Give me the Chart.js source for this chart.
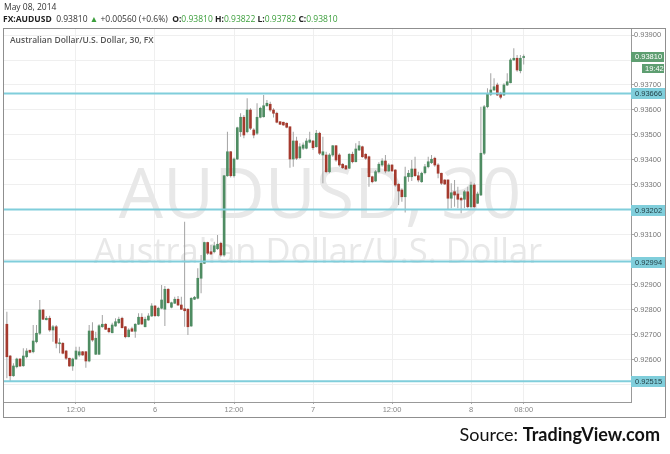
<!DOCTYPE html>
<html>
<head>
<meta charset="utf-8">
<title>AUDUSD, 30</title>
<script src="https://cdn.jsdelivr.net/npm/chart.js@4.4.0/dist/chart.umd.min.js"></script>
<style>
  body { margin: 0; background: #fff; }
  #wrap { position: relative; width: 670px; height: 454px; overflow: hidden; font-family: "Open Sans", sans-serif; }
  #wrap canvas { position: absolute; left: 0; top: 0; }
  .txt { position: absolute; white-space: nowrap; }
  #date { left: 4px; top: 1px; font-size: 8.5px; color: #333; }
  #quote { left: 3px; top: 13px; font-size: 8.5px; color: #333; }
  #quote b { font-weight: 700; color: #222; }
  #quote .up { color: #3b9e3b; }
  #title { left: 10px; top: 34px; font-size: 8.5px; font-weight: 600; color: #555; }
  #source { right: 10px; top: 424px; font-family: Lato, sans-serif; font-size: 18px; line-height: 20px; color: #111; }
  #source b { font-weight: 700; }
</style>
</head>
<body>
<div id="wrap">
  <canvas id="audChart" width="670" height="454"></canvas>
  <div class="txt" id="date">May 08, 2014</div>
  <div class="txt" id="quote"><b>FX:AUDUSD</b>&nbsp; 0.93810 <span class="up">&#9650;</span> +0.00560 (+0.6%) &nbsp;<b>O:</b><span class="up">0.93810</span> <b>H:</b><span class="up">0.93822</span> <b>L:</b><span class="up">0.93782</span> <b>C:</b><span class="up">0.93810</span></div>
  <div class="txt" id="title">Australian Dollar/U.S. Dollar, 30, FX</div>
  <div class="txt" id="source">Source: <b>TradingView.com</b></div>
</div>
<script>
// AUDUSD 30-minute candles, May 5 - May 8 2014.
// x is the half-hour slot counted from May 5 00:00 (24 = 12:00, 48 = May 6 ...)
const firstSlot = 3;

const opens = [
  0.92743, 0.92616, 0.92537, 0.92573, 0.92604, 0.92577, 0.92613, 0.92639, 0.92633, 0.92673,
  0.92707, 0.92800, 0.92761, 0.92767, 0.92720, 0.92733, 0.92665, 0.92667, 0.92636, 0.92607,
  0.92576, 0.92604, 0.92620, 0.92633, 0.92633, 0.92596, 0.92716, 0.92623, 0.92623, 0.92733,
  0.92743, 0.92727, 0.92709, 0.92736, 0.92749, 0.92767, 0.92733, 0.92693, 0.92725, 0.92715,
  0.92743, 0.92771, 0.92733, 0.92760, 0.92776, 0.92816, 0.92777, 0.92807, 0.92803, 0.92883,
  0.92811, 0.92827, 0.92843, 0.92820, 0.92805, 0.92803, 0.92736, 0.92843, 0.92847, 0.92927,
  0.92987, 0.93070, 0.93033, 0.93033, 0.93045, 0.93067, 0.93020, 0.93337, 0.93433, 0.93337,
  0.93404, 0.93513, 0.93571, 0.93513, 0.93600, 0.93520, 0.93507, 0.93571, 0.93573, 0.93617,
  0.93623, 0.93600, 0.93587, 0.93553, 0.93551, 0.93547, 0.93533, 0.93404, 0.93476, 0.93409,
  0.93447, 0.93447, 0.93471, 0.93476, 0.93453, 0.93507, 0.93420, 0.93420, 0.93353, 0.93420,
  0.93457, 0.93420, 0.93383, 0.93377, 0.93367, 0.93423, 0.93393, 0.93440, 0.93453, 0.93423,
  0.93413, 0.93333, 0.93316, 0.93353, 0.93380, 0.93396, 0.93356, 0.93380, 0.93360, 0.93303,
  0.93280, 0.93253, 0.93333, 0.93333, 0.93364, 0.93337, 0.93313, 0.93349, 0.93373, 0.93389,
  0.93407, 0.93380, 0.93347, 0.93320, 0.93320, 0.93247, 0.93273, 0.93264, 0.93247, 0.93243,
  0.93273, 0.93213, 0.93300, 0.93227, 0.93260, 0.93427, 0.93613, 0.93663, 0.93680, 0.93700,
  0.93667, 0.93660, 0.93700, 0.93709, 0.93800, 0.93807, 0.93757, 0.93810
];
const highs = [
  0.92793, 0.92620, 0.92587, 0.92609, 0.92607, 0.92647, 0.92647, 0.92641, 0.92740, 0.92740,
  0.92840, 0.92804, 0.92776, 0.92777, 0.92740, 0.92740, 0.92687, 0.92671, 0.92640, 0.92609,
  0.92609, 0.92653, 0.92653, 0.92636, 0.92636, 0.92740, 0.92751, 0.92713, 0.92743, 0.92780,
  0.92747, 0.92729, 0.92749, 0.92767, 0.92773, 0.92773, 0.92736, 0.92727, 0.92733, 0.92747,
  0.92787, 0.92787, 0.92773, 0.92787, 0.92827, 0.92820, 0.92813, 0.92900, 0.92896, 0.92887,
  0.92833, 0.92853, 0.92856, 0.92853, 0.93153, 0.92807, 0.92851, 0.92856, 0.92967, 0.93020,
  0.93073, 0.93073, 0.93060, 0.93073, 0.93100, 0.93073, 0.93340, 0.93513, 0.93436, 0.93410,
  0.93533, 0.93587, 0.93580, 0.93647, 0.93607, 0.93527, 0.93627, 0.93613, 0.93660, 0.93640,
  0.93633, 0.93607, 0.93593, 0.93556, 0.93553, 0.93550, 0.93533, 0.93513, 0.93493, 0.93467,
  0.93470, 0.93487, 0.93513, 0.93480, 0.93520, 0.93513, 0.93493, 0.93433, 0.93427, 0.93460,
  0.93460, 0.93427, 0.93387, 0.93380, 0.93427, 0.93433, 0.93467, 0.93476, 0.93457, 0.93427,
  0.93417, 0.93337, 0.93360, 0.93391, 0.93407, 0.93420, 0.93387, 0.93383, 0.93363, 0.93307,
  0.93287, 0.93373, 0.93360, 0.93400, 0.93413, 0.93353, 0.93353, 0.93384, 0.93413, 0.93420,
  0.93413, 0.93387, 0.93349, 0.93323, 0.93323, 0.93307, 0.93320, 0.93293, 0.93253, 0.93280,
  0.93293, 0.93313, 0.93307, 0.93273, 0.93613, 0.93620, 0.93687, 0.93747, 0.93727, 0.93709,
  0.93673, 0.93707, 0.93747, 0.93807, 0.93847, 0.93820, 0.93820, 0.93822
];
const lows = [
  0.92527, 0.92515, 0.92533, 0.92567, 0.92572, 0.92573, 0.92607, 0.92627, 0.92627, 0.92667,
  0.92700, 0.92760, 0.92759, 0.92713, 0.92673, 0.92647, 0.92627, 0.92623, 0.92600, 0.92573,
  0.92557, 0.92600, 0.92613, 0.92617, 0.92569, 0.92591, 0.92673, 0.92620, 0.92620, 0.92729,
  0.92720, 0.92707, 0.92707, 0.92733, 0.92744, 0.92727, 0.92687, 0.92691, 0.92713, 0.92689,
  0.92740, 0.92740, 0.92731, 0.92757, 0.92773, 0.92773, 0.92773, 0.92803, 0.92736, 0.92827,
  0.92807, 0.92824, 0.92816, 0.92800, 0.92733, 0.92700, 0.92733, 0.92840, 0.92843, 0.92867,
  0.92984, 0.93020, 0.93020, 0.93027, 0.93040, 0.93013, 0.93013, 0.93333, 0.93330, 0.93330,
  0.93400, 0.93493, 0.93487, 0.93507, 0.93520, 0.93487, 0.93500, 0.93567, 0.93570, 0.93613,
  0.93593, 0.93570, 0.93547, 0.93540, 0.93537, 0.93527, 0.93369, 0.93373, 0.93400, 0.93404,
  0.93440, 0.93443, 0.93467, 0.93440, 0.93450, 0.93420, 0.93307, 0.93347, 0.93347, 0.93413,
  0.93393, 0.93373, 0.93364, 0.93360, 0.93364, 0.93387, 0.93391, 0.93436, 0.93409, 0.93400,
  0.93293, 0.93307, 0.93313, 0.93347, 0.93373, 0.93347, 0.93353, 0.93353, 0.93293, 0.93220,
  0.93233, 0.93190, 0.93313, 0.93316, 0.93333, 0.93311, 0.93309, 0.93343, 0.93367, 0.93384,
  0.93373, 0.93327, 0.93300, 0.93300, 0.93200, 0.93207, 0.93213, 0.93207, 0.93187, 0.93207,
  0.93207, 0.93207, 0.93207, 0.93224, 0.93256, 0.93420, 0.93607, 0.93656, 0.93677, 0.93656,
  0.93643, 0.93656, 0.93696, 0.93707, 0.93797, 0.93753, 0.93747, 0.93782
];
const closes = [
  0.92613, 0.92537, 0.92576, 0.92604, 0.92576, 0.92616, 0.92636, 0.92631, 0.92676, 0.92707,
  0.92800, 0.92763, 0.92767, 0.92720, 0.92733, 0.92667, 0.92669, 0.92627, 0.92607, 0.92576,
  0.92604, 0.92636, 0.92633, 0.92620, 0.92596, 0.92716, 0.92680, 0.92687, 0.92737, 0.92743,
  0.92723, 0.92713, 0.92740, 0.92753, 0.92763, 0.92729, 0.92693, 0.92720, 0.92715, 0.92743,
  0.92771, 0.92744, 0.92763, 0.92776, 0.92816, 0.92777, 0.92807, 0.92840, 0.92883, 0.92829,
  0.92829, 0.92843, 0.92820, 0.92803, 0.92797, 0.92733, 0.92847, 0.92851, 0.92927, 0.92987,
  0.93070, 0.93027, 0.93024, 0.93057, 0.93063, 0.93020, 0.93337, 0.93433, 0.93337, 0.93404,
  0.93529, 0.93571, 0.93500, 0.93600, 0.93527, 0.93500, 0.93571, 0.93607, 0.93617, 0.93627,
  0.93600, 0.93587, 0.93551, 0.93543, 0.93540, 0.93531, 0.93404, 0.93476, 0.93407, 0.93453,
  0.93460, 0.93476, 0.93480, 0.93449, 0.93507, 0.93427, 0.93433, 0.93353, 0.93420, 0.93457,
  0.93400, 0.93380, 0.93369, 0.93364, 0.93423, 0.93393, 0.93444, 0.93457, 0.93413, 0.93407,
  0.93333, 0.93313, 0.93353, 0.93383, 0.93396, 0.93356, 0.93380, 0.93356, 0.93300, 0.93276,
  0.93253, 0.93333, 0.93347, 0.93364, 0.93337, 0.93320, 0.93347, 0.93373, 0.93393, 0.93403,
  0.93380, 0.93347, 0.93307, 0.93304, 0.93247, 0.93269, 0.93260, 0.93243, 0.93240, 0.93273,
  0.93213, 0.93300, 0.93213, 0.93264, 0.93427, 0.93613, 0.93663, 0.93680, 0.93693, 0.93660,
  0.93651, 0.93700, 0.93713, 0.93800, 0.93807, 0.93760, 0.93807, 0.93810
];

// horizontal support / resistance levels drawn on the chart
const levelValues = [0.93666, 0.93202, 0.92994, 0.92515];
const lastPrice = 0.93810;
const countdown = '19:42';

// axis ticks
const priceTicks = [0.925, 0.926, 0.927, 0.928, 0.929, 0.930, 0.931, 0.932,
                    0.933, 0.934, 0.935, 0.936, 0.937, 0.938, 0.939];
const hiddenPriceLabels = [0.925, 0.930, 0.932, 0.938]; // covered by the level tags
const timeTicks = [24, 48, 72, 96, 120, 144, 160];
const timeLabels = ['12:00', '6', '12:00', '7', '12:00', '8', '08:00'];

const xMin = 2.13, xMax = 192.6;
const yMin = 0.92432, yMax = 0.93924;

const upColor = '#4e8c62';
const downColor = '#a53a2e';
const wickColor = '#a3a3a3';
const levelColor = '#80cedb';
const tagGreen = '#5e9e71';

const slots = opens.map((_, k) => firstSlot + k);

// big faded symbol behind the candles
const watermark = {
    id: 'watermark',
    beforeDatasetsDraw(chart) {
        const ctx = chart.ctx;
        ctx.save();
        ctx.fillStyle = '#e8e8e8';
        ctx.textAlign = 'center';
        ctx.font = '70px "Open Sans"';
        ctx.fillText('AUDUSD, 30', 320, 218);
        ctx.font = '34.5px "Open Sans"';
        ctx.fillText('Australian Dollar/U.S. Dollar', 318, 263);
        ctx.restore();
    }
};

// outer frame plus the price tags on the right axis
const priceTags = {
    id: 'priceTags',
    afterDraw(chart) {
        const ctx = chart.ctx;
        const y = chart.scales.y;
        const right = chart.chartArea.right;
        ctx.save();
        ctx.strokeStyle = '#8f8f8f';
        ctx.lineWidth = 1;
        ctx.strokeRect(3.5, 28.5, 662, 389);

        ctx.font = '7.5px "Liberation Sans"';
        ctx.textBaseline = 'middle';
        levelValues.forEach(v => {
            const py = Math.round(y.getPixelForValue(v));
            ctx.fillStyle = levelColor;
            ctx.fillRect(right, py - 5, 34, 11);
            ctx.fillStyle = '#1f3c42';
            ctx.fillText(v.toFixed(5), right + 4, py + 0.5);
        });

        const py = Math.round(y.getPixelForValue(lastPrice));
        ctx.fillStyle = tagGreen;
        ctx.fillRect(right, py - 5, 33, 10);
        ctx.fillRect(right + 11, py + 7, 22, 9);
        ctx.fillStyle = '#fff';
        ctx.fillText(lastPrice.toFixed(5), right + 4, py);
        ctx.fillText(countdown, right + 14, py + 11.5);
        ctx.restore();
    }
};

const ctx = document.getElementById('audChart').getContext('2d');

new Chart(ctx, {
    type: 'bar',
    data: {
        datasets: [
            ...levelValues.map(v => ({
                type: 'line',
                data: [{ x: xMin, y: v }, { x: xMax, y: v }],
                borderColor: levelColor,
                borderWidth: 2,
                pointRadius: 0,
                fill: false,
                order: 0
            })),
            {
                label: 'body',
                data: slots.map((x, k) => ({ x, y: [opens[k], closes[k]] })),
                backgroundColor: c => (closes[c.dataIndex] >= opens[c.dataIndex] ? upColor : downColor),
                barThickness: 2,
                minBarLength: 1,
                grouped: false,
                order: 1
            },
            {
                label: 'wick',
                data: slots.map((x, k) => ({ x, y: [lows[k], highs[k]] })),
                backgroundColor: wickColor,
                barThickness: 1,
                inflateAmount: 0,
                grouped: false,
                order: 2
            }
        ]
    },
    options: {
        responsive: false,
        animation: false,
        devicePixelRatio: 1,
        layout: { padding: { left: 4, right: 5, top: 29, bottom: 37 } },
        plugins: { legend: { display: false }, tooltip: { enabled: false } },
        scales: {
            x: {
                type: 'linear',
                min: xMin,
                max: xMax,
                offset: false,
                afterFit: s => { s.height = 15; },
                afterBuildTicks: s => { s.ticks = timeTicks.map(v => ({ value: v })); },
                grid: { color: '#efefef', offset: false, tickLength: 2, tickColor: '#aaa' },
                border: { color: '#999' },
                ticks: {
                    autoSkip: false,
                    maxRotation: 0,
                    padding: 1,
                    color: '#888',
                    font: { family: 'Liberation Sans', size: 7.5 },
                    callback: v => timeLabels[timeTicks.indexOf(v)]
                }
            },
            y: {
                position: 'right',
                min: yMin,
                max: yMax,
                beginAtZero: false,
                afterFit: s => { s.width = 34; },
                afterBuildTicks: s => { s.ticks = priceTicks.map(v => ({ value: v })); },
                grid: { color: '#efefef', tickLength: 3, tickColor: '#aaa' },
                border: { color: '#999' },
                ticks: {
                    padding: 0,
                    color: '#777',
                    font: { family: 'Liberation Sans', size: 7.5 },
                    callback: v => (hiddenPriceLabels.some(h => Math.abs(h - v) < 1e-6) ? '' : v.toFixed(5))
                }
            }
        }
    },
    plugins: [watermark, priceTags]
});
</script>
</body>
</html>
